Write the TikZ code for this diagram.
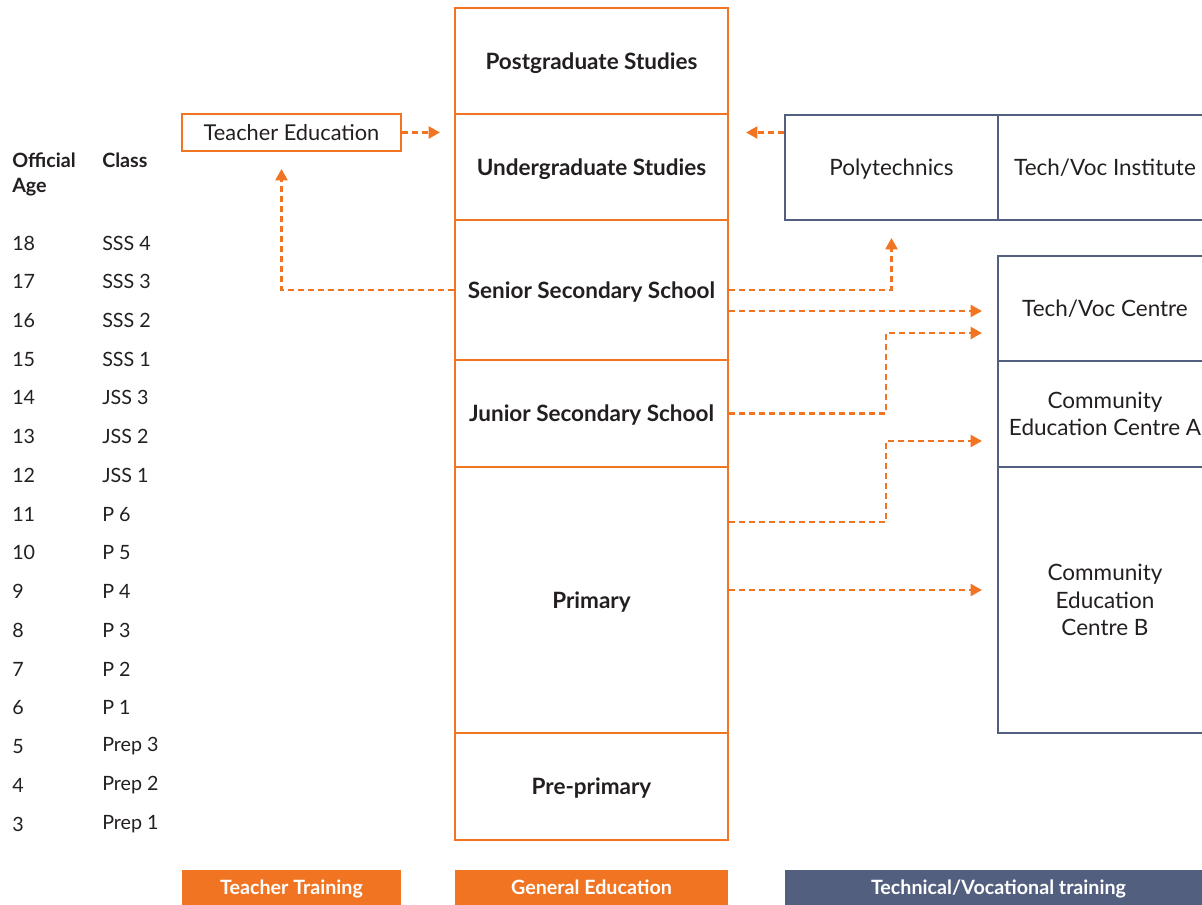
\documentclass[tikz,border=0pt]{standalone}
\usepackage{fontspec}
\setmainfont{Lato}
\usetikzlibrary{positioning}
\usetikzlibrary{arrows.meta}
\definecolor{edorange}{HTML}{F07421}
\definecolor{edslate}{HTML}{535F7F}
\definecolor{edtext}{HTML}{231F20}
\tikzset{
	genbox/.style={draw=edorange, line width=1.5pt, rectangle, inner sep=0pt, text depth=0pt, minimum width=6.825cm, text=edtext, font=\fontsize{16}{19}\selectfont\bfseries},
	tvbox/.style={draw=edslate, line width=1.5pt, rectangle, inner sep=0pt, text depth=0pt, align=center, text=edtext, font=\fontsize{16}{19.5}\selectfont},
	teachbox/.style={draw=edorange, line width=1.5pt, rectangle, inner sep=0pt, text depth=0pt, text=edtext, font=\fontsize{15.5}{19}\selectfont},
	% legend bars at the bottom
	legend/.style={rectangle, inner sep=0pt, text depth=0pt, minimum height=0.875cm, text=white, font=\fontsize{14}{17}\selectfont\bfseries},
	agecol/.style={anchor=west, inner sep=0pt, text=edtext, font=\fontsize{14}{17}\selectfont},
	pathway/.style={draw=edorange, line width=1.5pt, dash pattern=on 0.15cm off 0.1cm, -{Triangle[length=0.28cm, width=0.3cm]}},
}

\begin{document}
\begin{tikzpicture}[x=0.025cm, y=-0.025cm]
		
		\useasboundingbox (0,0) rectangle (1202,905);
		
		% general education column
		\node (post) [genbox, minimum height=2.65cm] at (591.5,61) {Postgraduate Studies};
		\node (under) [genbox, minimum height=2.65cm] at (591.5,167) {Undergraduate Studies};
		\node (senior) [genbox, minimum height=3.5cm] at (591.5,290) {Senior Secondary School};
		\node (junior) [genbox, minimum height=2.675cm] at (591.5,413.5) {Junior Secondary School};
		\node (primary) [genbox, minimum height=6.65cm] at (591.5,600) {Primary};
		\node (preprim) [genbox, minimum height=2.675cm] at (591.5,786.5) {Pre-primary};
		
		% teacher training
		\node (teached) [teachbox, minimum width=5.475cm, minimum height=0.925cm] at (291.5,132.5) {Teacher Education};
		
		% technical / vocational
		\node (poly) [tvbox, minimum width=5.325cm, minimum height=2.625cm] at (891.5,167.5) {Polytechnics};
		\node (inst) [tvbox, minimum width=5.35cm, minimum height=2.625cm] at (1105,167.5) {Tech/Voc Institute};
		\node (tvcentre) [tvbox, minimum width=5.35cm, minimum height=2.625cm] at (1105,308.5) {Tech/Voc Centre};
		\node (ceca) [tvbox, minimum width=5.35cm, minimum height=2.65cm] at (1105,414) {Community\\Education Centre A};
		\node (cecb) [tvbox, minimum width=5.35cm, minimum height=6.65cm] at (1105,600) {Community\\Education\\Centre B};
		
		% age and class columns
		\node (agehead) [agecol, anchor=north west, align=left, font=\fontsize{14}{17.5}\selectfont\bfseries] at (12,153) {Official\\Age};
		\node (clshead) [agecol, anchor=north west, font=\fontsize{14}{17.5}\selectfont\bfseries] at (102,153) {Class};
		\foreach \age/\cls [count=\i] in {18/SSS 4, 17/SSS 3, 16/SSS 2, 15/SSS 1, 14/JSS 3, 13/JSS 2, 12/JSS 1, 11/P 6, 10/P 5, 9/P 4, 8/P 3, 7/P 2, 6/P 1, 5/Prep 3, 4/Prep 2, 3/Prep 1}{
			\node (age\i) [agecol] at (12,{243+(\i-1)*38.73}) {\age};
			\node (cls\i) [agecol] at (102,{243+(\i-1)*38.73}) {\cls};
		}
		
		% legend
		\node (teachtrain) [legend, fill=edorange, minimum width=5.475cm] at (291.5,887.5) {Teacher Training};
		\node (genedu) [legend, fill=edorange, minimum width=6.825cm] at (591.5,887.5) {General Education};
		\node (techvoc) [legend, fill=edslate, minimum width=10.675cm] at (998.5,887.5) {Technical/Vocational training};
		
		\coordinate (jbend) at (886,333);
		\coordinate (pbend) at (886,441);
		
		\begin{scope}[pathway]
			
			\draw [shorten >=0.35cm] (teached.east) -- (teached.east -| under.west);
			\draw [shorten >=0.425cm] (poly.west |- teached.east) -- (under.east |- teached.east);
			\draw [shorten >=0.425cm] (senior.west) -| ([xshift=-0.25cm]teached.south);
			\draw [shorten >=0.425cm] (senior.east) -| (poly.south);
			\draw [shorten >=0.375cm] ([yshift=-0.525cm]senior.east) -- ([yshift=-0.525cm]senior.east -| tvcentre.west);
			\draw [shorten >=0.375cm] (junior.east) -| (jbend) -- (jbend -| tvcentre.west);
			\draw [shorten >=0.375cm] ([yshift=1.95cm]primary.east) -| (pbend) -- (pbend -| ceca.west);
			\draw [shorten >=0.375cm] ([yshift=0.25cm]primary.east) -- ([yshift=0.25cm]primary.east -| cecb.west);
			
		\end{scope}
		
	\end{tikzpicture}
\end{document}
